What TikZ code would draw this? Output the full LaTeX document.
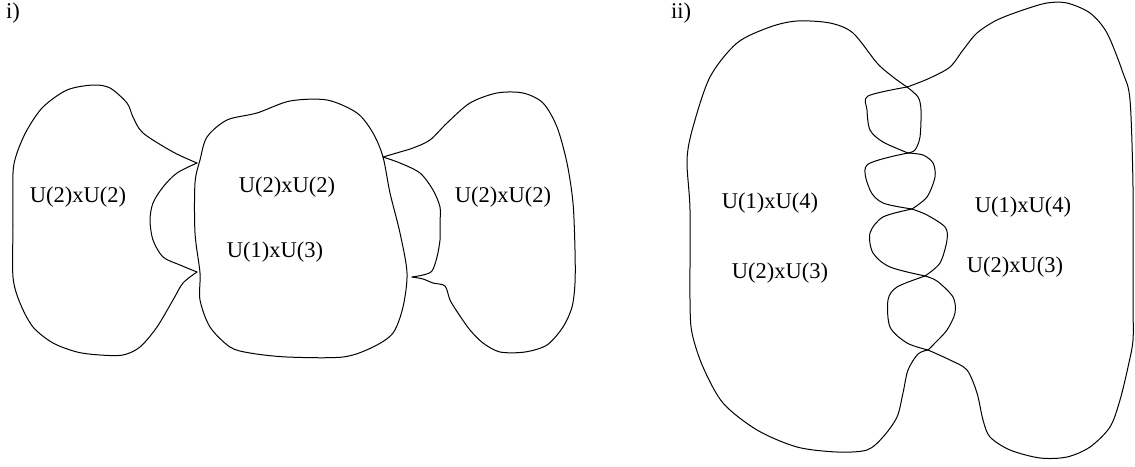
\documentclass[tikz,border=0pt]{standalone}
\usepackage{fontspec}
\setmainfont{Liberation Serif}
\tikzset{
  outline/.style={line width=1pt, line join=round, line cap=round},
  lbl/.style={font=\fontsize{22.5}{27}\selectfont, inner sep=0pt},
}
\begin{document}
\begin{tikzpicture}[x=1pt,y=-1pt]
\useasboundingbox (0,0) rectangle (1135,466);
% ---------- panel i ----------
\node[lbl,anchor=west] (ti) at (6,13) {i)};
% left blob
\draw[outline] plot[smooth] coordinates {(197,163) (173,152) (143,133) (133,117) (127,103) (110,88) (93,85) (67,90) (43,107) (27,130) (17,153) (13,173) (13,225) (13,277) (20,303) (33,327) (53,343) (77,352) (100,355) (123,355) (140,347) (157,327) (173,300) (183,283) (197,272)};
\draw[outline] plot[smooth] coordinates {(197,272) (180,265) (163,257) (153,240) (150,220) (153,203) (163,187) (177,173) (197,163)};
% middle blob
\draw[outline] plot[smooth cycle] coordinates {(257,113) (290,101) (327,100) (357,113) (373,133) (383,157) (390,193) (400,233) (407,273) (403,307) (393,333) (373,347) (343,357) (287,357) (250,353) (230,347) (210,327) (200,300) (200,273) (195,233) (195,183) (200,160) (207,137) (227,120)};
% right blob
\draw[outline] plot[smooth] coordinates {(383,157) (400,152) (413,148) (430,140) (447,123) (470,103) (497,93) (523,93) (543,103) (557,127) (567,163) (573,203) (575,250) (575,283) (572,307) (563,327) (547,345) (525,352) (500,352) (483,343) (470,330) (458,313) (450,300) (445,286) (433,283) (423,279) (412,277)};
\draw[outline] plot[smooth] coordinates {(412,277) (423,275) (432,271) (437,257) (440,240) (440,223) (440,207) (433,190) (420,173) (400,163) (383,157)};
\node[lbl] (a1) at (78,197) {U(2)xU(2)};
\node[lbl] (a2) at (287,187) {U(2)xU(2)};
\node[lbl] (a3) at (275,252) {U(1)xU(3)};
\node[lbl] (a4) at (503,197) {U(2)xU(2)};
% ---------- panel ii ----------
\node[lbl,anchor=west] (tii) at (671,13) {ii)};
% left blob outer
\draw[outline] plot[smooth] coordinates {(928,350) (918,354) (908,370) (903,393) (897,417) (883,437) (867,450) (837,452) (797,447) (757,430) (723,403) (703,367) (692,333) (690,300) (690,210) (687,160) (693,127) (710,77) (737,43) (770,27) (797,21) (830,23) (853,33) (877,63) (893,77) (907,87)};
% left arcs
\draw[outline] plot[smooth] coordinates {(907,87) (868,96) (867,110) (870,130) (883,142) (908,153)};
\draw[outline] plot[smooth] coordinates {(908,153) (867,165) (870,190) (883,203) (912,209)};
\draw[outline] plot[smooth] coordinates {(912,209) (883,217) (870,233) (873,253) (890,267) (925,276)};
\draw[outline] plot[smooth] coordinates {(925,276) (897,287) (888,300) (890,327) (907,343) (928,350)};
% right arcs
\draw[outline] plot[smooth] coordinates {(907,87) (918,97) (921,110) (920,137) (915,150) (908,153)};
\draw[outline] plot[smooth] coordinates {(908,153) (923,155) (933,163) (935,177) (927,197) (912,209)};
\draw[outline] plot[smooth] coordinates {(912,209) (927,215) (945,227) (947,240) (940,263) (925,276)};
\draw[outline] plot[smooth] coordinates {(925,276) (937,281) (953,297) (955,313) (947,330) (935,343) (928,350)};
% right blob outer
\draw[outline] plot[smooth] coordinates {(928,350) (950,360) (967,370) (977,393) (983,420) (990,437) (1010,450) (1040,458) (1067,457) (1090,447) (1110,427) (1120,400) (1128,367) (1133,340) (1133,300) (1133,187) (1130,100) (1123,73) (1107,33) (1090,13) (1067,3) (1047,3) (1023,10) (997,20) (977,33) (963,50) (950,67) (930,78) (910,86) (907,87)};
\node[lbl] (b1) at (770,203) {U(1)xU(4)};
\node[lbl] (b2) at (780,273) {U(2)xU(3)};
\node[lbl] (b3) at (1023,207) {U(1)xU(4)};
\node[lbl] (b4) at (1015,267) {U(2)xU(3)};
\end{tikzpicture}
\end{document}
